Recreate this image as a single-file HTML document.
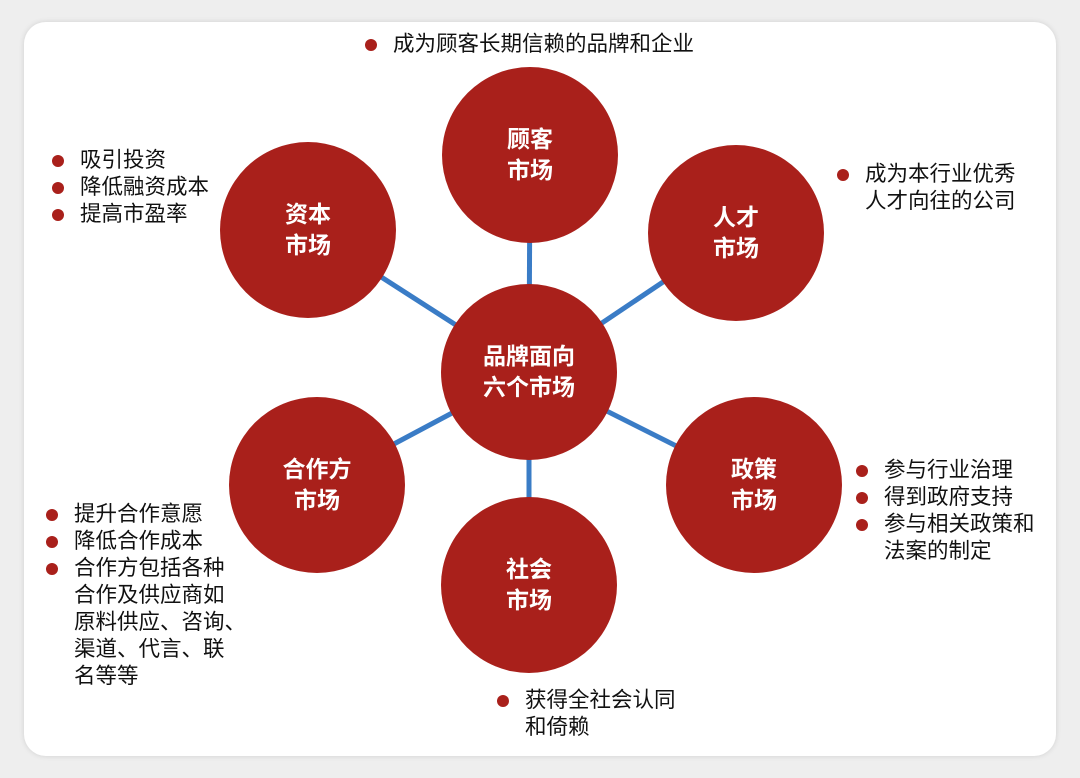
<!DOCTYPE html>
<html><head><meta charset="utf-8"><style>
html,body{margin:0;padding:0}
body{width:1080px;height:778px;background:#eeeeee;position:relative;overflow:hidden;font-family:"Liberation Sans","Noto Sans CJK SC",sans-serif}
.card{position:absolute;left:24px;top:22px;width:1032px;height:734px;background:#fff;border-radius:22px;box-shadow:0 0 6px rgba(0,0,0,.12)}
.c{position:absolute;width:176px;height:176px;border-radius:50%;background:#a9201b;color:#fff;font-weight:bold;font-size:23px;line-height:31px;display:flex;align-items:center;justify-content:center;text-align:center}
.t{position:absolute;font-size:21.5px;line-height:27px;color:#111}
.t div{position:relative;padding-left:31px;white-space:nowrap}
.t div.b:before{content:"";position:absolute;left:3px;top:8px;width:12px;height:12px;border-radius:50%;background:#a9201b}
svg{position:absolute;left:0;top:0}
</style></head><body>
<div class="card"></div>
<svg width="1080" height="778"><g stroke="#3a7cc6" stroke-width="5">
<line x1="530" y1="155" x2="529" y2="372"/>
<line x1="308" y1="230" x2="529" y2="372"/>
<line x1="736" y1="233" x2="529" y2="372"/>
<line x1="317" y1="485" x2="529" y2="372"/>
<line x1="754" y1="485" x2="529" y2="372"/>
<line x1="529" y1="585" x2="529" y2="372"/>
</g></svg>
<div class="c" style="left:442px;top:67px">顾客<br>市场</div>
<div class="c" style="left:220px;top:142px">资本<br>市场</div>
<div class="c" style="left:648px;top:145px">人才<br>市场</div>
<div class="c" style="left:441px;top:284px">品牌面向<br>六个市场</div>
<div class="c" style="left:229px;top:397px">合作方<br>市场</div>
<div class="c" style="left:666px;top:397px">政策<br>市场</div>
<div class="c" style="left:441px;top:497px">社会<br>市场</div>
<div class="t" style="left:362px;top:31px"><div class="b">成为顾客长期信赖的品牌和企业</div></div>
<div class="t" style="left:49px;top:147px"><div class="b">吸引投资</div><div class="b">降低融资成本</div><div class="b">提高市盈率</div></div>
<div class="t" style="left:834px;top:161px"><div class="b">成为本行业优秀</div><div>人才向往的公司</div></div>
<div class="t" style="left:853px;top:457px"><div class="b">参与行业治理</div><div class="b">得到政府支持</div><div class="b">参与相关政策和</div><div>法案的制定</div></div>
<div class="t" style="left:43px;top:501px"><div class="b">提升合作意愿</div><div class="b">降低合作成本</div><div class="b">合作方包括各种</div><div>合作及供应商如</div><div>原料供应、咨询、</div><div>渠道、代言、联</div><div>名等等</div></div>
<div class="t" style="left:494px;top:687px"><div class="b">获得全社会认同</div><div>和倚赖</div></div>
</body></html>
